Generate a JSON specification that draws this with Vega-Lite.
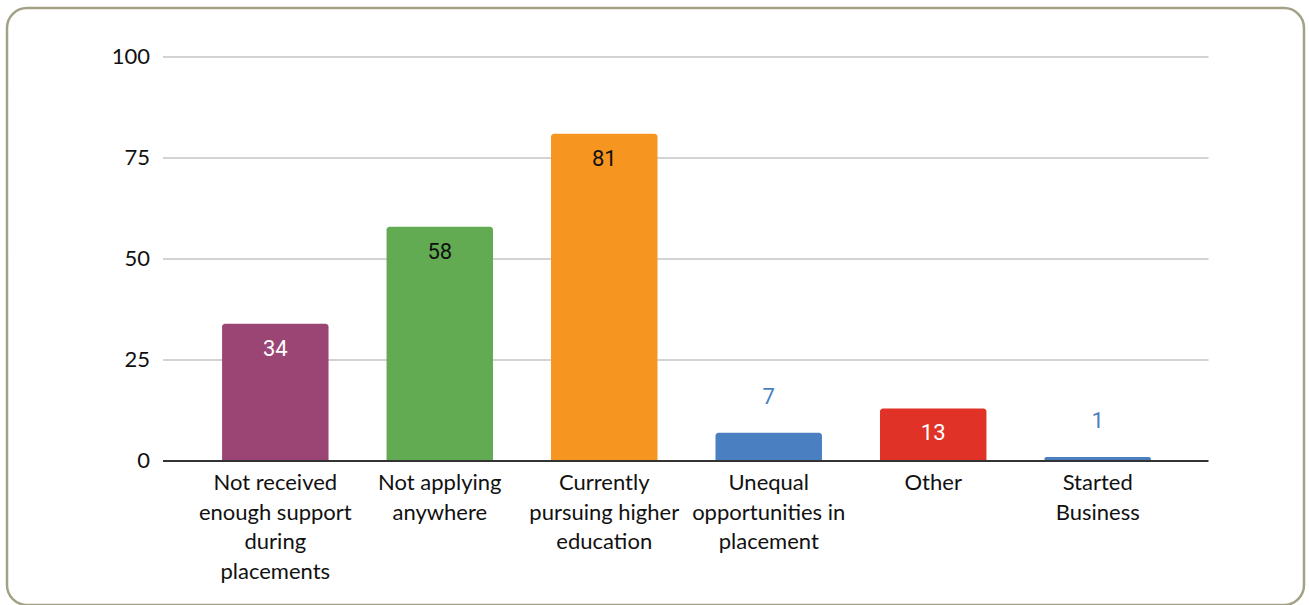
{
  "$schema": "https://vega.github.io/schema/vega-lite/v6.json",
  "width": 1297,
  "height": 597,
  "autosize": {"type": "none"},
  "padding": {"left": 7, "top": 8, "right": 5, "bottom": 0},
  "background": "white",
  "config": {"view": {"stroke": "#a3a287", "strokeWidth": 2.5, "cornerRadius": 20}},
  "datasets": {
    "answers": [
      {"cat": "Not received enough support during placements", "label": "Not received\nenough support\nduring\nplacements", "value": 34},
      {"cat": "Not applying anywhere", "label": "Not applying\nanywhere", "value": 58},
      {"cat": "Currently pursuing higher education", "label": "Currently\npursuing higher\neducation", "value": 81},
      {"cat": "Unequal opportunities in placement", "label": "Unequal\nopportunities in\nplacement", "value": 7},
      {"cat": "Other", "label": "Other", "value": 13},
      {"cat": "Started Business", "label": "Started\nBusiness", "value": 1}
    ],
    "ticks": [{"tick": 0}, {"tick": 25}, {"tick": 50}, {"tick": 75}, {"tick": 100}]
  },
  "resolve": {"scale": {"x": "independent"}, "axis": {"x": "independent"}},
  "layer": [
    {
      "data": {"name": "ticks"},
      "transform": [{"filter": "datum.tick > 0"}],
      "mark": {"type": "rule", "color": "#c4c4c4", "strokeWidth": 1.5},
      "encoding": {
        "y": {"field": "tick", "type": "quantitative", "scale": {"domain": [-35.64, 112.13], "nice": false, "zero": false}, "axis": null},
        "x": {"datum": 0, "type": "quantitative", "scale": {"domain": [0, 1], "range": [156, 1201.5], "nice": false, "zero": false}, "axis": null},
        "x2": {"datum": 1}
      }
    },
    {
      "data": {"name": "ticks"},
      "mark": {"type": "text", "font": "Lato", "fontSize": 22, "color": "#111111", "align": "right", "baseline": "middle", "dx": -13},
      "encoding": {
        "y": {"field": "tick", "type": "quantitative", "scale": {"domain": [-35.64, 112.13], "nice": false, "zero": false}, "axis": null},
        "x": {"datum": 0, "type": "quantitative", "scale": {"domain": [0, 1], "range": [156, 1201.5], "nice": false, "zero": false}, "axis": null},
        "text": {"field": "tick", "type": "quantitative"}
      }
    },
    {
      "data": {"name": "answers"},
      "encoding": {
        "x": {
          "field": "cat", "type": "nominal", "sort": null,
          "scale": {"range": [157.5, 1201.5], "paddingInner": 0.3527, "paddingOuter": 0.35, "align": 0.5, "round": false},
          "axis": null
        }
      },
      "layer": [
        {
          "mark": {"type": "bar", "cornerRadiusTopLeft": 3, "cornerRadiusTopRight": 3},
          "encoding": {
            "y": {"field": "value", "type": "quantitative", "scale": {"domain": [-35.64, 112.13], "nice": false, "zero": false}, "axis": null},
            "y2": {"datum": 0},
            "color": {
              "field": "cat", "type": "nominal",
              "scale": {
                "domain": ["Not received enough support during placements", "Not applying anywhere", "Currently pursuing higher education", "Unequal opportunities in placement", "Other", "Started Business"],
                "range": ["#9b4574", "#62ab53", "#f6951f", "#4a7fc1", "#e03226", "#4a7fc1"]
              },
              "legend": null
            }
          }
        },
        {
          "transform": [{"filter": "datum.value >= 10"}],
          "mark": {"type": "text", "font": "Roboto", "fontSize": 22, "baseline": "middle", "align": "center", "dy": 25},
          "encoding": {
            "y": {"field": "value", "type": "quantitative", "scale": {"domain": [-35.64, 112.13], "nice": false, "zero": false}, "axis": null},
            "text": {"field": "value", "type": "quantitative"},
            "color": {"condition": {"test": "datum.cat == 'Not applying anywhere' || datum.cat == 'Currently pursuing higher education'", "value": "#111111"}, "value": "#ffffff"}
          }
        },
        {
          "transform": [{"filter": "datum.value < 10"}],
          "mark": {"type": "text", "font": "Roboto", "fontSize": 22, "baseline": "middle", "align": "center", "dy": -36, "color": "#4a7fc1"},
          "encoding": {
            "y": {"field": "value", "type": "quantitative", "scale": {"domain": [-35.64, 112.13], "nice": false, "zero": false}, "axis": null},
            "text": {"field": "value", "type": "quantitative"}
          }
        },
        {
          "mark": {"type": "text", "font": "Lato", "fontSize": 22, "color": "#111111", "baseline": "top", "align": "center", "dy": 12, "lineBreak": "\n", "lineHeight": 29.5},
          "encoding": {
            "y": {"datum": 0, "type": "quantitative", "scale": {"domain": [-35.64, 112.13], "nice": false, "zero": false}, "axis": null},
            "text": {"field": "label", "type": "nominal"}
          }
        }
      ]
    },
    {
      "data": {"name": "ticks"},
      "transform": [{"filter": "datum.tick == 0"}],
      "mark": {"type": "rule", "color": "#333333", "strokeWidth": 2},
      "encoding": {
        "y": {"field": "tick", "type": "quantitative", "scale": {"domain": [-35.64, 112.13], "nice": false, "zero": false}, "axis": null},
        "x": {"datum": 0, "type": "quantitative", "scale": {"domain": [0, 1], "range": [156, 1201.5], "nice": false, "zero": false}, "axis": null},
        "x2": {"datum": 1}
      }
    }
  ]
}
